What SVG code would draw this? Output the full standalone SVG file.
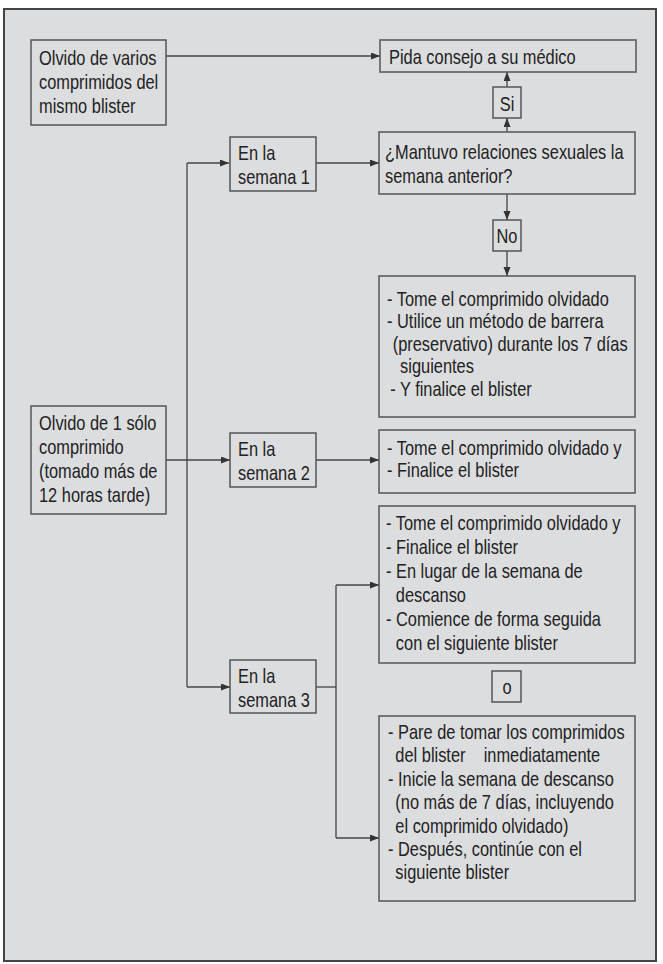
<svg xmlns="http://www.w3.org/2000/svg" width="663" height="964" viewBox="0 0 663 964">
<defs>
<style>
.box{fill:#dcdddf;stroke:#555;stroke-width:1.5}
.t{font-family:"Liberation Sans",Arial,sans-serif;font-size:20px;fill:#222;white-space:pre}
.c{fill:none;stroke:#444;stroke-width:1.3}
</style>
<marker id="ah" markerUnits="userSpaceOnUse" markerWidth="10" markerHeight="8" refX="9" refY="3.5" orient="auto">
<path d="M0,0 L9,3.5 L0,7 z" fill="#333"/>
</marker>
</defs>
<rect x="0" y="0" width="663" height="964" fill="#ffffff"/>
<rect x="4" y="9" width="652" height="952" fill="#dcdddf" stroke="#444" stroke-width="2"/>

<g id="connectors">
<line class="c" x1="166" y1="56" x2="380" y2="56" marker-end="url(#ah)"/>
<line class="c" x1="507" y1="132" x2="507" y2="118" marker-end="url(#ah)"/>
<line class="c" x1="507" y1="87" x2="507" y2="72" marker-end="url(#ah)"/>
<line class="c" x1="315" y1="163" x2="379" y2="163" marker-end="url(#ah)"/>
<line class="c" x1="507" y1="194" x2="507" y2="220" marker-end="url(#ah)"/>
<line class="c" x1="507" y1="251" x2="507" y2="276" marker-end="url(#ah)"/>
<line class="c" x1="166" y1="460" x2="230" y2="460" marker-end="url(#ah)"/>
<line class="c" x1="187" y1="163" x2="187" y2="687"/>
<line class="c" x1="187" y1="163" x2="229" y2="163" marker-end="url(#ah)"/>
<line class="c" x1="187" y1="687" x2="230" y2="687" marker-end="url(#ah)"/>
<line class="c" x1="315" y1="460" x2="379" y2="460" marker-end="url(#ah)"/>
<line class="c" x1="315" y1="687" x2="336" y2="687"/>
<line class="c" x1="336" y1="585" x2="336" y2="838"/>
<line class="c" x1="336" y1="585" x2="379" y2="585" marker-end="url(#ah)"/>
<line class="c" x1="336" y1="838" x2="379" y2="838" marker-end="url(#ah)"/>
</g>

<g id="n_varios">
<rect class="box" x="31" y="40" width="135" height="85"/>
<text class="t" transform="matrix(0.82 0 0 1 39 65)"><tspan x="0" y="0">Olvido de varios</tspan><tspan x="0" y="24">comprimidos del</tspan><tspan x="0" y="48">mismo blister</tspan></text>
</g>

<g id="n_pida">
<rect class="box" x="380" y="40" width="256" height="32"/>
<text class="t" transform="matrix(0.82 0 0 1 389 64)">Pida consejo a su médico</text>
</g>

<g id="n_si">
<rect class="box" x="493" y="87" width="28" height="31"/>
<text class="t" text-anchor="middle" transform="matrix(0.82 0 0 1 507 111)">Si</text>
</g>

<g id="n_sem1">
<rect class="box" x="230" y="137" width="86" height="54"/>
<text class="t" transform="matrix(0.82 0 0 1 238 160)"><tspan x="0" y="0">En la</tspan><tspan x="0" y="24">semana 1</tspan></text>
</g>

<g id="n_pregunta">
<rect class="box" x="379" y="132" width="256" height="62"/>
<text class="t" transform="matrix(0.82 0 0 1 385 159)"><tspan x="0" y="0">¿Mantuvo relaciones sexuales la</tspan><tspan x="0" y="24">semana anterior?</tspan></text>
</g>

<g id="n_no">
<rect class="box" x="493" y="220" width="28" height="31"/>
<text class="t" text-anchor="middle" transform="matrix(0.82 0 0 1 507 243)">No</text>
</g>

<g id="n_sem1_res">
<rect class="box" x="379" y="276" width="256" height="141"/>
<text class="t" transform="matrix(0.82 0 0 1 387 306)"><tspan x="0" y="0">- Tome el comprimido olvidado</tspan><tspan x="0" y="22.5">- Utilice un método de barrera</tspan><tspan x="7" y="45">(preservativo) durante los 7 días</tspan><tspan x="16" y="67.5">siguientes</tspan><tspan x="4" y="90">- Y finalice el blister</tspan></text>
</g>

<g id="n_olvido1">
<rect class="box" x="31" y="406" width="135" height="108"/>
<text class="t" transform="matrix(0.82 0 0 1 39 430)"><tspan x="0" y="0">Olvido de 1 sólo</tspan><tspan x="0" y="24">comprimido</tspan><tspan x="0" y="48">(tomado más de</tspan><tspan x="0" y="72">12 horas tarde)</tspan></text>
</g>

<g id="n_sem2">
<rect class="box" x="230" y="433" width="86" height="54"/>
<text class="t" transform="matrix(0.82 0 0 1 238 456)"><tspan x="0" y="0">En la</tspan><tspan x="0" y="24">semana 2</tspan></text>
</g>

<g id="n_sem2_res">
<rect class="box" x="379" y="430" width="256" height="63"/>
<text class="t" transform="matrix(0.82 0 0 1 387 455)"><tspan x="0" y="0">- Tome el comprimido olvidado y</tspan><tspan x="0" y="22.5">- Finalice el blister</tspan></text>
</g>

<g id="n_sem3_a">
<rect class="box" x="379" y="506" width="256" height="157"/>
<text class="t" transform="matrix(0.82 0 0 1 386 530)"><tspan x="0" y="0">- Tome el comprimido olvidado y</tspan><tspan x="0" y="24">- Finalice el blister</tspan><tspan x="0" y="48">- En lugar de la semana de</tspan><tspan x="12" y="72">descanso</tspan><tspan x="0" y="96">- Comience de forma seguida</tspan><tspan x="12" y="120">con el siguiente blister</tspan></text>
</g>

<g id="n_o">
<rect class="box" x="492" y="671" width="29" height="31"/>
<text class="t" text-anchor="middle" transform="matrix(0.82 0 0 1 507 694)">o</text>
</g>

<g id="n_sem3">
<rect class="box" x="230" y="660" width="86" height="53"/>
<text class="t" transform="matrix(0.82 0 0 1 238 683)"><tspan x="0" y="0">En la</tspan><tspan x="0" y="24">semana 3</tspan></text>
</g>

<g id="n_sem3_b">
<rect class="box" x="379" y="716" width="256" height="185"/>
<text class="t" transform="matrix(0.82 0 0 1 388 739)"><tspan x="0" y="0">- Pare de tomar los comprimidos</tspan><tspan x="9" y="23.4">del blister    inmediatamente</tspan><tspan x="0" y="46.8">- Inicie la semana de descanso</tspan><tspan x="9" y="70.2">(no más de 7 días, incluyendo</tspan><tspan x="9" y="93.6">el comprimido olvidado)</tspan><tspan x="0" y="117">- Después, continúe con el</tspan><tspan x="9" y="140.4">siguiente blister</tspan></text>
</g>
</svg>
